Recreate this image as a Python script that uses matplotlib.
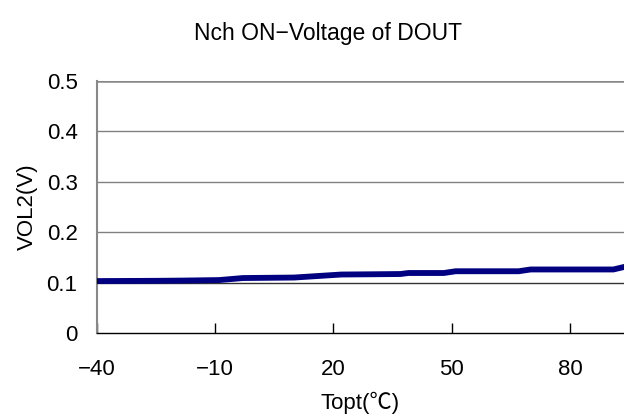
import matplotlib
matplotlib.use("Agg")
import matplotlib.pyplot as plt

plt.rcParams['font.family'] = ['Liberation Sans', 'Noto Sans CJK JP', 'DejaVu Sans']

# Measured Nch ON-voltage of DOUT vs operating temperature
temperature_c = [-40, -25, -18, -9, -3, 10, 22, 30, 37, 39, 48, 51, 57, 67, 70, 84, 91, 94]
vol2_v = [0.103, 0.1035, 0.104, 0.105, 0.109, 0.110, 0.116, 0.1165, 0.117, 0.119, 0.119,
          0.1225, 0.1225, 0.1225, 0.126, 0.126, 0.126, 0.1315]

x_ticks = [-40, -10, 20, 50, 80]
x_tick_labels = ["\u221240", "\u221210", "20", "50", "80"]
y_ticks = [0, 0.1, 0.2, 0.3, 0.4, 0.5]
y_tick_labels = ["0", "0.1", "0.2", "0.3", "0.4", "0.5"]

fig = plt.figure(figsize=(6.24, 4.19), dpi=100)
ax = fig.add_axes([0.1554, 0.2053, 0.8446, 0.6014])

ax.set_xlim(-40, 93.7)
ax.set_ylim(0, 0.5)

# horizontal grid
for yv in y_ticks[1:]:
    if yv == 0.5:
        ax.axhline(yv, color="#888888", lw=1.8, zorder=1)
    elif yv == 0.1:
        ax.axhline(yv, color="#333333", lw=1.0, zorder=1)
    else:
        ax.axhline(yv, color="#808080", lw=1.0, zorder=1)

ax.plot(temperature_c, vol2_v, color="#000080", lw=4.2, solid_capstyle="butt",
        solid_joinstyle="round", zorder=3, clip_on=False)

for side in ("top", "right"):
    ax.spines[side].set_visible(False)
ax.spines["left"].set_color("#888888")
ax.spines["left"].set_linewidth(1.5)
ax.spines["bottom"].set_color("black")
ax.spines["bottom"].set_linewidth(1.0)

ax.set_xticks(x_ticks)
ax.set_xticklabels(x_tick_labels)
ax.set_yticks(y_ticks)
ax.set_yticklabels(y_tick_labels)
ax.tick_params(axis="x", direction="in", length=7, width=1, colors="black",
               labelsize=16, pad=19)
ax.tick_params(axis="y", length=0, labelsize=16, pad=14)

ax.set_xlabel("Topt(℃)", fontsize=16, labelpad=8)
ax.set_ylabel("VOL2(V)", fontsize=16, labelpad=6)

fig.text(0.525, 0.921, "Nch ON\u2212Voltage of DOUT", ha="center", va="center", fontsize=16.5)

fig.savefig("out.png", dpi=100)
